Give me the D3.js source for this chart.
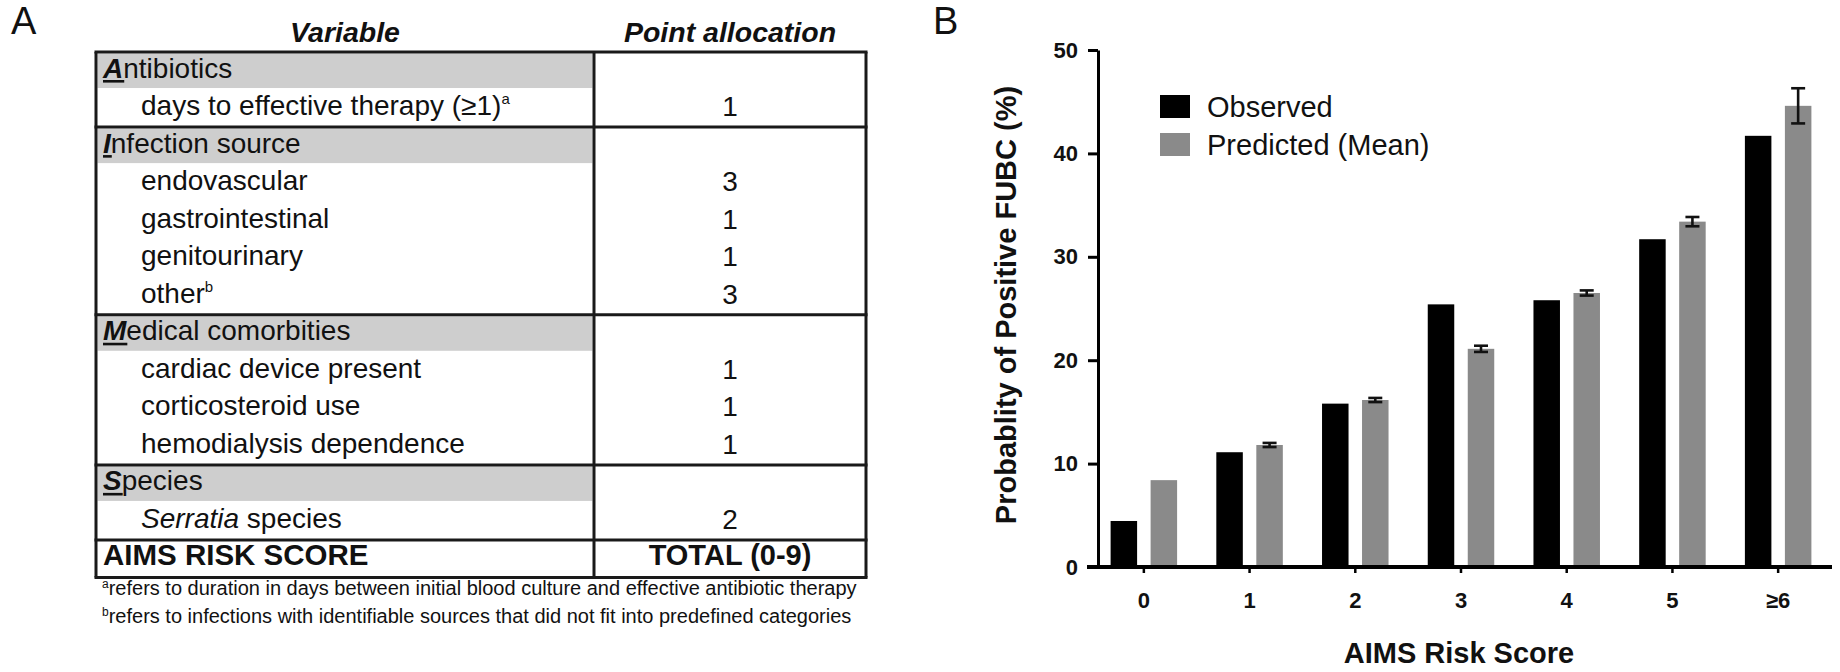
<!DOCTYPE html>
<html><head><meta charset="utf-8">
<script src="https://cdn.jsdelivr.net/npm/d3@7"></script>
<style>
body{margin:0;background:#fff}
svg{display:block}
text{font-family:"Liberation Sans",Arial,Helvetica,sans-serif;fill:#111}
</style>
</head><body>
<svg id="c" width="1840" height="672"></svg>
<script>
// ---------- Panel B data ----------
const categories = ["0","1","2","3","4","5","\u22656"];
const seriesNames = ["Observed","Predicted (Mean)"];
const observed = [4.45, 11.1, 15.8, 25.4, 25.8, 31.7, 41.7];
const predicted = [8.4, 11.8, 16.15, 21.1, 26.5, 33.4, 44.6];
const predictedErr = [0, 0.2, 0.2, 0.3, 0.25, 0.45, 1.7];
const yTicks = [0, 10, 20, 30, 40, 50];

// ---------- Panel A data ----------
const tableHeaders = ["Variable", "Point allocation"];
const rowLabels = ["Antibiotics","days to effective therapy (\u22651)","Infection source","endovascular","gastrointestinal","genitourinary","other","Medical comorbities","cardiac device present","corticosteroid use","hemodialysis dependence","Species","Serratia species","AIMS RISK SCORE"];
const rowKinds = ["section","item","section","item","item","item","item","section","item","item","item","section","item","total"];
const rowPoints = ["","1","","3","1","1","3","","1","1","1","","2","TOTAL (0-9)"];
const rowSup = ["","a","","","","","b","","","","","","",""];
const rowItalicPrefix = ["","","","","","","","","","","","","Serratia",""];
const footnoteMarks = ["a","b"];
const footnoteTexts = ["refers to duration in days between initial blood culture and effective antibiotic therapy","refers to infections with identifiable sources that did not fit into predefined categories"];

const svg = d3.select("#c");

// ================= Panel A =================
const gA = svg.append("g");
gA.append("text").attr("x", 11).attr("y", 34).style("font-size","38px").text("A");

const colX = d3.scaleOrdinal().domain(["left","mid","right"]).range([96, 594, 866]);
const rowY = d3.scaleLinear().domain([0, rowLabels.length]).range([52, 577.5]);
const rowH = rowY(1) - rowY(0);

// headers
gA.selectAll("text.hdr").data(tableHeaders).join("text").attr("class","hdr")
  .attr("x", (d,i) => i === 0 ? (colX("left")+colX("mid"))/2 : (colX("mid")+colX("right"))/2)
  .attr("y", 42).attr("text-anchor","middle")
  .style("font-size","28.5px").style("font-weight","bold").style("font-style","italic")
  .text(d => d);

// gray section bands
const idx = d3.range(rowLabels.length);
gA.selectAll("rect.band").data(idx.filter(i => rowKinds[i] === "section")).join("rect").attr("class","band")
  .attr("x", colX("left")+1.5).attr("width", colX("mid")-colX("left")-3)
  .attr("y", i => rowY(i)+1.5).attr("height", rowH-3)
  .attr("fill","#cecece");

// row labels
idx.forEach(i => {
  const base = rowY(i) + 25.5;
  const kind = rowKinds[i];
  const label = rowLabels[i];
  if (kind === "section") {
    const t = gA.append("text").attr("x", 103).attr("y", base).style("font-size","28px");
    t.append("tspan").style("font-weight","bold").style("font-style","italic").text(label[0]);
    t.append("tspan").text(label.slice(1));
    const w = t.node().getSubStringLength(0,1);
    gA.append("rect").attr("x", 103).attr("y", base+2.5).attr("width", w+1).attr("height", 2.6).attr("fill","#111");
  } else if (kind === "item") {
    const t = gA.append("text").attr("x", 141).attr("y", base).style("font-size","28px");
    const pre = rowItalicPrefix[i];
    if (pre) {
      t.append("tspan").style("font-style","italic").text(pre);
      t.append("tspan").text(label.slice(pre.length));
    } else {
      t.append("tspan").text(label);
    }
    if (rowSup[i]) t.append("tspan").attr("dy", -11).style("font-size","15px").text(rowSup[i]);
  } else {
    gA.append("text").attr("x", 103).attr("y", base).style("font-size","29.5px").style("font-weight","bold").text(label);
  }
  if (rowPoints[i]) {
    gA.append("text").attr("x", (colX("mid")+colX("right"))/2).attr("y", base + (kind==="item"?1:0))
      .attr("text-anchor","middle").style("font-size", kind === "total" ? "29px" : "28px")
      .style("font-weight", kind === "total" ? "bold" : "normal").text(rowPoints[i]);
  }
});

// table lines
const hLines = [0].concat(idx.filter(i => i>0 && rowKinds[i] !== "item"), [rowLabels.length]);
gA.selectAll("line.h").data(hLines).join("line").attr("class","h")
  .attr("x1", colX("left")-1.5).attr("x2", colX("right")+1.5)
  .attr("y1", d => rowY(d)).attr("y2", d => rowY(d))
  .attr("stroke","#1a1a1a").attr("stroke-width",3);
gA.selectAll("line.v").data(["left","mid","right"]).join("line").attr("class","v")
  .attr("x1", d => colX(d)).attr("x2", d => colX(d))
  .attr("y1", rowY(0)).attr("y2", rowY(rowLabels.length))
  .attr("stroke","#1a1a1a").attr("stroke-width",3);

// footnotes
footnoteTexts.forEach((txt, i) => {
  const t = gA.append("text").attr("x", 102).attr("y", 595 + i*28).style("font-size","20px");
  t.append("tspan").attr("dy", -7).style("font-size","12px").text(footnoteMarks[i]);
  t.append("tspan").attr("dy", 7).text(txt);
});

// ================= Panel B =================
const gB = svg.append("g");
gB.append("text").attr("x", 933).attr("y", 34).style("font-size","38px").text("B");

const x0 = d3.scaleBand().domain(categories).range([1091, 1831]).padding(0);
const x1 = d3.scaleBand().domain(seriesNames).range([-33.25, 33.25]).paddingInner(0.3375);
const y = d3.scaleLinear().domain([0, 50]).range([567, 50]);
const color = d3.scaleOrdinal().domain(seriesNames).range(["#000000", "#8a8a8a"]);

const values = [observed, predicted];
const cx = c => x0(c) + x0.bandwidth()/2;

seriesNames.forEach((s, si) => {
  gB.selectAll("rect.s"+si).data(categories).join("rect").attr("class","s"+si)
    .attr("x", c => cx(c) + x1(s))
    .attr("width", x1.bandwidth())
    .attr("y", (c,i) => y(values[si][i]))
    .attr("height", (c,i) => y(0) - y(values[si][i]))
    .attr("fill", color(s));
});

// error bars on predicted
const errIdx = d3.range(categories.length).filter(i => predictedErr[i] > 0);
const ex = i => cx(categories[i]) + x1(seriesNames[1]) + x1.bandwidth()/2;
const eg = gB.append("g").attr("stroke","#111").attr("stroke-width",2.6);
eg.selectAll("line.ev").data(errIdx).join("line").attr("class","ev")
  .attr("x1", ex).attr("x2", ex)
  .attr("y1", i => y(predicted[i]-predictedErr[i])).attr("y2", i => y(predicted[i]+predictedErr[i]));
[-1, 1].forEach(sgn => {
  eg.selectAll("line.ec"+(sgn>0?"p":"m")).data(errIdx).join("line").attr("class","ec"+(sgn>0?"p":"m"))
    .attr("x1", i => ex(i)-7).attr("x2", i => ex(i)+7)
    .attr("y1", i => y(predicted[i]+sgn*predictedErr[i])).attr("y2", i => y(predicted[i]+sgn*predictedErr[i]));
});

// y axis
const yAxis = gB.append("g").attr("transform","translate(1098,0)")
  .call(d3.axisLeft(y).tickValues(yTicks).tickSize(10).tickSizeOuter(0).tickPadding(10));
yAxis.select(".domain").attr("stroke","#000").attr("stroke-width",3);
yAxis.selectAll(".tick line").attr("stroke","#000").attr("stroke-width",3);
yAxis.selectAll(".tick text").style("font-size","22px").style("font-weight","bold")
  .style("font-family","'Liberation Sans',Arial,sans-serif").attr("fill","#111");

// x axis
const xAxis = gB.append("g").attr("transform","translate(0,567)")
  .call(d3.axisBottom(x0).tickSize(6).tickSizeOuter(0));
xAxis.select(".domain").remove();
xAxis.selectAll(".tick line").attr("stroke","#000").attr("stroke-width",2.5);
xAxis.selectAll(".tick text").attr("y", 25).style("font-size","22px").style("font-weight","bold")
  .style("font-family","'Liberation Sans',Arial,sans-serif").attr("fill","#111");
gB.append("line").attr("x1", 1087).attr("x2", 1832).attr("y1", y(0)).attr("y2", y(0))
  .attr("stroke","#000").attr("stroke-width",4);

// axis titles
gB.append("text").attr("x", 1459).attr("y", 663).attr("text-anchor","middle")
  .style("font-size","29px").style("font-weight","bold").text("AIMS Risk Score");
gB.append("text").attr("transform","translate(1016,305) rotate(-90)").attr("text-anchor","middle")
  .style("font-size","29px").style("font-weight","bold").text("Probablity of Positive FUBC (%)");

// legend
const lg = gB.append("g");
lg.selectAll("rect").data(seriesNames).join("rect")
  .attr("x", 1160).attr("y", (d,i) => 95 + i*38).attr("width", 30).attr("height", 23)
  .attr("fill", d => color(d));
lg.selectAll("text").data(seriesNames).join("text")
  .attr("x", 1207).attr("y", (d,i) => 117 + i*37.5).style("font-size","29px").text(d => d);
</script>
</body></html>
